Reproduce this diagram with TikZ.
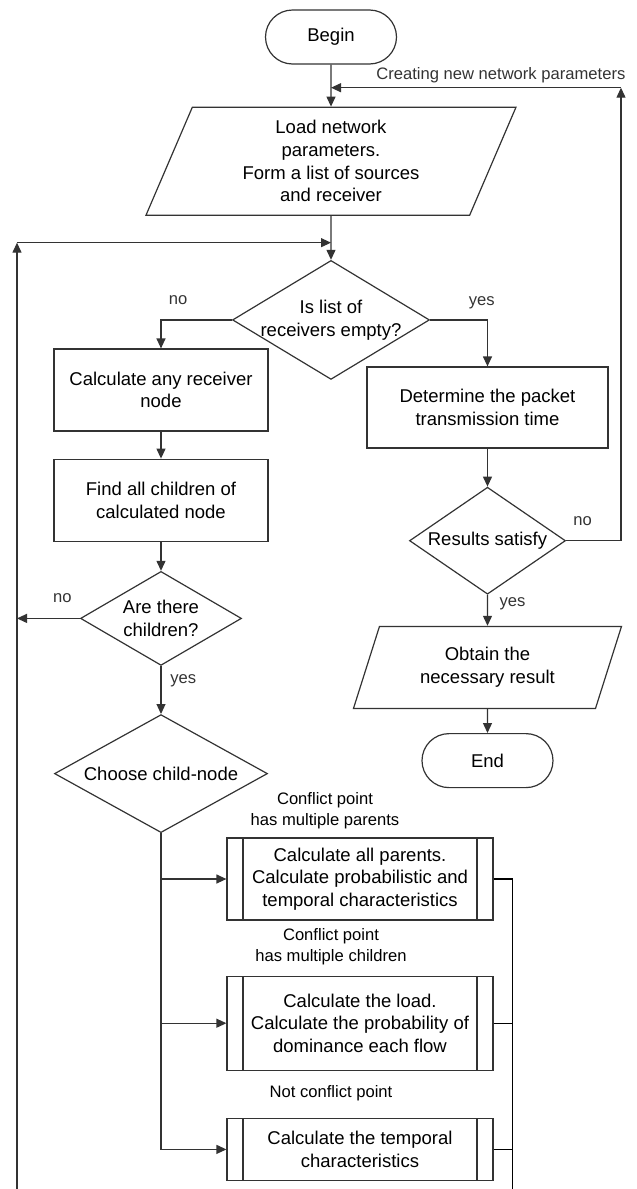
\documentclass[tikz,border=0pt]{standalone}
\usepackage{fontspec}
\setmainfont{Liberation Sans}
\usetikzlibrary{positioning,shapes.geometric,calc,arrows.meta}

\tikzset{
  terminal/.style={draw=black!80, rounded corners=13.5pt, minimum width=65.5pt, minimum height=27pt},
  io/.style={trapezium, trapezium left angle=64, trapezium right angle=116,
    trapezium stretches body, draw=black!80, align=center},
  process/.style={draw=black!80, align=center, minimum width=107pt, minimum height=41pt, inner sep=2pt},
  subproc/.style={process, minimum width=133pt,
    path picture={\draw[black!80]
      ([xshift=8pt]path picture bounding box.north west) -- ([xshift=8pt]path picture bounding box.south west)
      ([xshift=-8pt]path picture bounding box.north east) -- ([xshift=-8pt]path picture bounding box.south east);}},
  decision/.style={diamond, draw=black!80, inner sep=0pt},
  lbl/.style={font=\fontsize{8.3}{10.5}\selectfont, align=center},
  arr/.style={-{Triangle[length=5pt,width=4.5pt]}, black!80}
}

\begin{document}
\begin{tikzpicture}[line width=0.6pt, font=\fontsize{9.25}{11.35}\selectfont]
  \useasboundingbox (0,0) rectangle (318.5pt,-594.5pt);
  % Tell it where the nodes are
  \node (begin) [terminal] at (165.5pt,-18.5pt) {Begin};
  \node (load) [io, minimum width=185pt, minimum height=54pt, below=21pt of begin]
    {Load network\\parameters.\\Form a list of sources\\and receiver};
  \node (empty) [decision, minimum width=98.5pt, minimum height=59.5pt, below=22pt of load,
    label={[align=center]center:Is list of\\receivers empty?}] {};
  % left column
  \node (anyrec) [process] at (80.5pt,-195pt) {Calculate any receiver\\node};
  \node (children) [process, below=13.5pt of anyrec] {Find all children of\\calculated node};
  \node (there) [decision, minimum width=80.5pt, minimum height=47pt, below=14.5pt of children,
    label={[align=center]center:Are there\\children?}] {};
  \node (choose) [decision, minimum width=106.5pt, minimum height=59pt, below=24pt of there,
    label={center:Choose child-node}] {};
  \node (allpar) [subproc] at (180pt,-439.5pt)
    {Calculate all parents.\\Calculate probabilistic and\\temporal characteristics};
  \node (dom) [subproc, minimum height=47pt, below=27.5pt of allpar]
    {Calculate the load.\\Calculate the probability of\\dominance each flow};
  \node (temp) [subproc, minimum height=31pt, below=23.5pt of dom]
    {Calculate the temporal\\characteristics};
  \node (conf1) [lbl] at (162.5pt,-405.5pt) {Conflict point\\has multiple parents};
  \node (conf2) [lbl] at (165.5pt,-473.5pt) {Conflict point\\has multiple children};
  \node (noconf) [lbl] at (165.5pt,-546.5pt) {Not conflict point};
  % right column
  \node (det) [process, minimum width=120.5pt, minimum height=40.5pt] at (243.75pt,-203.75pt)
    {Determine the packet\\transmission time};
  \node (sat) [decision, minimum width=78pt, minimum height=53.5pt, below=19pt of det,
    label={center:Results satisfy}] {};
  \node (obtain) [io, minimum width=134pt, minimum height=41pt, below=15.5pt of sat]
    {Obtain the\\necessary result};
  \node (finish) [terminal, below=12pt of obtain] {End};
  % Tell it where the lines bend
  \coordinate (top) at ($(begin.south)!0.55!(load.north)$);
  \coordinate (cr) at ($(top)+(145pt,0)$);
  \coordinate (back) at ($(load.south)!0.61!(empty.north)$);
  \coordinate (cl) at ($(back)+(-157pt,0)$);
  \coordinate (clbot) at (cl |- 0,-594.5pt);
  \coordinate (rr) at ($(allpar.east)+(9.5pt,0)$);
  \coordinate (rrbot) at (rr |- 0,-594.5pt);
  % Tell it what arrows to draw
  \draw[arr] (begin) -- (load);
  \draw[arr] (sat.east) -| node[lbl, pos=0.15, above=4pt] {no} (cr);
  \draw[arr] (cr) -- node[lbl, pos=0, anchor=south east, inner sep=0pt, xshift=2.5pt, yshift=2pt]
    {Creating new network parameters} (top);
  \draw[arr] (load) -- (empty);
  \draw[arr] (clbot) -- (cl);
  \draw[arr] (cl) -- (back);
  \draw[arr] (empty.west) -| node[lbl, pos=0.38, above=4pt] {no} (anyrec);
  \draw[arr] (empty.east) -| node[lbl, pos=0.45, above=2pt] {yes} (det);
  \draw[arr] (anyrec) -- (children);
  \draw[arr] (children) -- (there);
  \draw[arr] (there.west) -- node[lbl, pos=0.28, above=4pt] {no} (there.west -| cl);
  \draw[arr] (there) -- node[lbl, pos=0.3, right=1pt] {yes} (choose);
  \draw[arr] (choose.south) |- (allpar);
  \draw[arr] (choose.south) |- (dom);
  \draw[arr] (choose.south) |- (temp);
  \draw (allpar.east) -| (rrbot);
  \draw (dom.east) -- (dom.east -| rr);
  \draw (temp.east) -- (temp.east -| rr);
  \draw[arr] (det) -- (sat);
  \draw[arr] (sat) -- node[lbl, pos=0.3, right=2.4pt] {yes} (obtain);
  \draw[arr] (obtain) -- (finish);
\end{tikzpicture}
\end{document}
